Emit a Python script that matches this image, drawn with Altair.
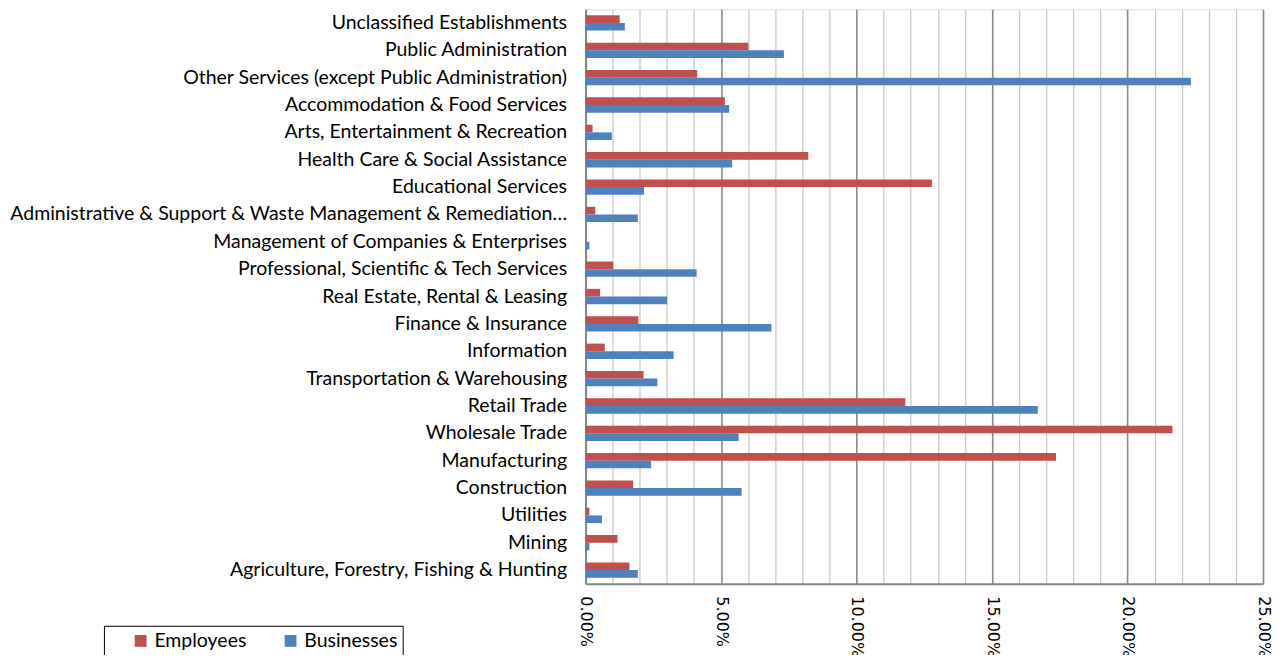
import altair as alt
import pandas as pd

categories = [
    "Unclassified Establishments",
    "Public Administration",
    "Other Services (except Public Administration)",
    "Accommodation & Food Services",
    "Arts, Entertainment & Recreation",
    "Health Care & Social Assistance",
    "Educational Services",
    "Administrative & Support & Waste Management & Remediation…",
    "Management of Companies & Enterprises",
    "Professional, Scientific & Tech Services",
    "Real Estate, Rental & Leasing",
    "Finance & Insurance",
    "Information",
    "Transportation & Warehousing",
    "Retail Trade",
    "Wholesale Trade",
    "Manufacturing",
    "Construction",
    "Utilities",
    "Mining",
    "Agriculture, Forestry, Fishing & Hunting",
]
employees = [1.26, 6.01, 4.12, 5.14, 0.26, 8.22, 12.78, 0.36, 0.0, 1.02, 0.54,
             1.95, 0.71, 2.14, 11.80, 21.66, 17.36, 1.76, 0.14, 1.18, 1.62]
businesses = [1.45, 7.32, 22.34, 5.30, 0.97, 5.41, 2.16, 1.93, 0.14, 4.10, 3.01,
              6.86, 3.25, 2.65, 16.69, 5.65, 2.42, 5.76, 0.61, 0.14, 1.93]
series = ["Employees", "Businesses"]
colors = ["#C0504D", "#4F81BD"]
tick_values = [i / 100 for i in range(26)]

rows = []
for c, e, b in zip(categories, employees, businesses):
    rows.append({"Industry": c, "Series": series[0], "Share": e / 100})
    rows.append({"Industry": c, "Series": series[1], "Share": b / 100})
df = pd.DataFrame(rows)

major = "round(datum.value*100) % 5 == 0"

chart = alt.Chart(df).mark_bar().encode(
    y=alt.Y(
        "Industry:N",
        sort=categories,
        scale=alt.Scale(paddingInner=0.44, paddingOuter=0.22),
        axis=alt.Axis(
            title=None, ticks=False, labelPadding=19, labelFont="Lato",
            labelFontSize=19.5, labelColor="#000000", labelLimit=0,
            domainColor="#868686", domainWidth=2, grid=False,
        ),
    ),
    yOffset=alt.YOffset("Series:N", sort=series),
    x=alt.X(
        "Share:Q",
        scale=alt.Scale(domain=[0, 0.25], nice=False),
        axis=alt.Axis(
            title=None, values=tick_values, ticks=False,
            labelExpr=f"{major} ? format(datum.value, '.2%') : ''",
            labelAngle=90, labelAlign="left", labelBaseline="middle",
            labelPadding=12, labelFont="DejaVu Sans", labelFontSize=16,
            labelColor="#000000", labelOverlap=False,
            domainColor="#868686", domainWidth=2,
            grid=True,
            gridColor={"condition": {"test": major, "value": "#8a8a8a"}, "value": "#c6c6c6"},
            gridWidth={"condition": {"test": major, "value": 1.6}, "value": 1.2},
        ),
    ),
    color=alt.Color(
        "Series:N",
        sort=series,
        scale=alt.Scale(domain=series, range=colors),
        legend=alt.Legend(
            title=None, orient="none", legendX=-482, legendY=617,
            direction="horizontal", symbolType="square", symbolSize=140,
            symbolStrokeWidth=0, labelFont="Lato", labelFontSize=19.5,
            labelColor="#000000", columnPadding=12, padding=5,
            labelExpr="datum.label + '\u00a0\u00a0\u00a0\u00a0\u00a0'",
            symbolOffset=22, strokeColor="#000000", fillColor="#ffffff",
        ),
    ),
).properties(
    width=678,
    height=575,
    autosize=alt.AutoSizeParams(type="none"),
    padding={"left": 578, "top": 1, "right": 10, "bottom": 71},
).configure_view(stroke=None).configure(background="#ffffff")

chart.save("out.html", embed_options={"renderer": "svg", "actions": False})
